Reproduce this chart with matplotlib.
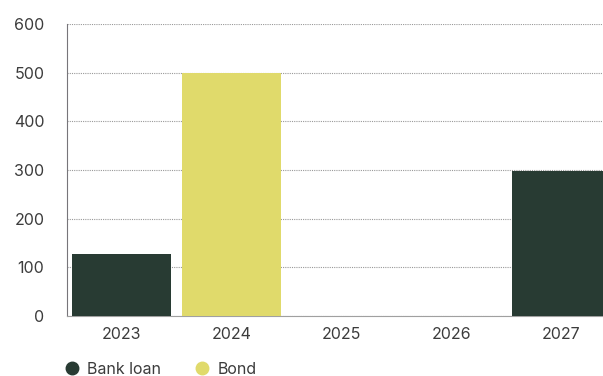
import matplotlib
matplotlib.use("Agg")
import matplotlib.pyplot as plt
from matplotlib.lines import Line2D

years = ["2023", "2024", "2025", "2026", "2027"]
bank_loan = [127, 0, 0, 0, 297]
bond = [0, 500, 0, 0, 0]
yticks = [0, 100, 200, 300, 400, 500, 600]

c_loan = "#283b33"
c_bond = "#e0da6b"

plt.rcParams['font.family'] = ['Inter', 'DejaVu Sans']
fig = plt.figure(figsize=(6.03, 3.76), dpi=100)
ax = fig.add_axes([66.5 / 603, 0.16, 550 / 603, 0.776])
x = range(len(years))
ax.bar(x, bank_loan, width=0.9, color=c_loan, zorder=3)
ax.bar(x, bond, bottom=bank_loan, width=0.9, color=c_bond, zorder=3)
ax.set_xlim(-0.5, 4.5)
ax.set_ylim(0, 600)
ax.set_yticks(yticks)
ax.set_xticks(list(x))
ax.set_xticklabels(years)
ax.yaxis.grid(True, linestyle=(0, (1, 1)), color="#999999", linewidth=0.8, zorder=0)
for s in ["top", "right"]:
    ax.spines[s].set_visible(False)
ax.spines["left"].set_color("#77757a")
ax.spines["bottom"].set_color("#a0a0a0")
ax.tick_params(axis="both", length=0, labelsize=11.5, labelcolor="#3c3c3c")
ax.tick_params(axis="y", pad=16)
ax.tick_params(axis="x", pad=8)

handles = [Line2D([], [], marker="o", linestyle="", markersize=9, color=c_loan),
           Line2D([], [], marker="o", linestyle="", markersize=9, color=c_bond)]
fig.legend(handles, ["Bank loan", "Bond"], loc="lower left", bbox_to_anchor=(0.075, -0.04),
           ncol=2, frameon=False, fontsize=11.5, handletextpad=0.2, columnspacing=1.85,
           handlelength=1.5, labelcolor="#3c3c3c")
fig.savefig("out.png", dpi=100)
